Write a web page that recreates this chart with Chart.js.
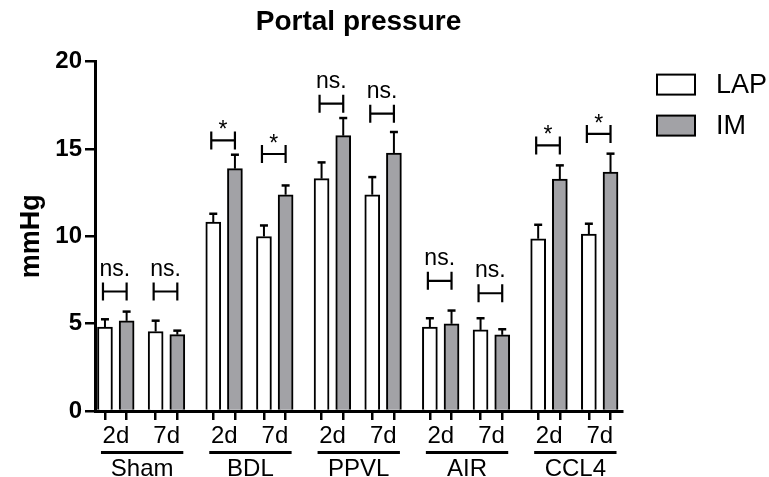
<!DOCTYPE html>
<html><head><meta charset="utf-8">
<script src="https://cdn.jsdelivr.net/npm/chart.js@4.4.0/dist/chart.umd.min.js"></script>
<style>html,body{margin:0;padding:0;background:#fff;}#wrap{width:769px;height:477px;position:relative;}</style>
</head><body><div id="wrap"><canvas id="c"></canvas></div>
<script>
// ---- data ----
const groups = ['Sham', 'BDL', 'PPVL', 'AIR', 'CCL4'];
const times = ['2d', '7d'];
const seriesNames = ['LAP', 'IM'];
const lapMean = [4.80, 4.55, 10.81, 9.99, 13.30, 12.38, 4.80, 4.64, 9.86, 10.13];
const lapErr  = [0.45, 0.62, 0.48, 0.63, 0.93, 1.01, 0.51, 0.67, 0.80, 0.59];
const imMean  = [5.16, 4.37, 13.87, 12.38, 15.76, 14.77, 4.99, 4.36, 13.28, 13.68];
const imErr   = [0.53, 0.23, 0.80, 0.53, 1.01, 1.20, 0.76, 0.32, 0.78, 1.05];
const sigLabel = ['ns.', 'ns.', '*', '*', 'ns.', 'ns.', 'ns.', 'ns.', '*', '*'];
const sigY     = [6.84, 6.84, 15.49, 14.71, 17.59, 17.02, 7.45, 6.74, 15.20, 15.86];
const yTicks = [0, 5, 10, 15, 20];

// ---- layout helpers ----
const FONT = '"Liberation Sans", Arial, Helvetica, sans-serif';
const PAIR_GAP = 0.2, TIME_GAP = 0.468;
const xPos = (g, t, s) => g + t * TIME_GAP + s * PAIR_GAP;
const lapData = [], imData = [], tickVals = [];
groups.forEach((gn, g) => times.forEach((tn, t) => {
  const i = g * times.length + t;
  lapData.push({x: xPos(g, t, 0), y: lapMean[i]});
  imData.push({x: xPos(g, t, 1), y: imMean[i]});
  tickVals.push(xPos(g, t, 0), xPos(g, t, 1));
}));
const means = [lapMean, imMean], errs = [lapErr, imErr];

const extras = {
  id: 'extras',
  afterDatasetsDraw(chart) {
    const ctx = chart.ctx, xs = chart.scales.x, ys = chart.scales.y;
    ctx.save();
    ctx.strokeStyle = '#000'; ctx.fillStyle = '#000'; ctx.lineWidth = 2;
    // error bars
    [0, 1].forEach(d => {
      chart.getDatasetMeta(d).data.forEach((bar, i) => {
        const top = ys.getPixelForValue(means[d][i] + errs[d][i]);
        ctx.lineWidth = 2;
        ctx.beginPath();
        ctx.moveTo(bar.x, bar.y); ctx.lineTo(bar.x, top);
        ctx.stroke();
        ctx.lineWidth = 2.5;
        ctx.beginPath();
        ctx.moveTo(bar.x - 4, top); ctx.lineTo(bar.x + 4, top);
        ctx.stroke();
      });
    });
    // significance brackets
    sigLabel.forEach((lab, i) => {
      const xl = xs.getPixelForValue(lapData[i].x) - 2;
      const xr = xs.getPixelForValue(imData[i].x);
      const y = ys.getPixelForValue(sigY[i]);
      ctx.lineWidth = 2.2;
      ctx.beginPath();
      ctx.moveTo(xl, y); ctx.lineTo(xr, y);
      ctx.moveTo(xl, y - 9); ctx.lineTo(xl, y + 9);
      ctx.moveTo(xr, y - 9); ctx.lineTo(xr, y + 9);
      ctx.stroke();
      ctx.textAlign = 'center';
      ctx.textBaseline = 'alphabetic';
      ctx.font = '23px ' + FONT;
      if (lab === '*') ctx.fillText(lab, (xl + xr) / 2, y - 3);
      else ctx.fillText(lab, (xl + xr) / 2, y - 16);
    });
    ctx.restore();
  },
  afterDraw(chart) {
    const ctx = chart.ctx, xs = chart.scales.x, ca = chart.chartArea;
    ctx.save();
    ctx.fillStyle = '#000'; ctx.strokeStyle = '#000';
    // group underlines + names
    groups.forEach((gn, g) => {
      const x0 = xs.getPixelForValue(xPos(g, 0, 0)) - 4;
      const x1 = xs.getPixelForValue(xPos(g, 1, 1)) + 6;
      ctx.lineWidth = 3;
      ctx.beginPath(); ctx.moveTo(x0, ca.bottom + 41.5); ctx.lineTo(x1, ca.bottom + 41.5); ctx.stroke();
      ctx.font = '24px ' + FONT; ctx.textAlign = 'center'; ctx.textBaseline = 'alphabetic';
      ctx.fillText(gn, (x0 + x1) / 2, ca.bottom + 64.5);
    });
    // legend
    chart.data.datasets.forEach((ds, d) => {
      const bx = ca.right + 35, by = ca.top + 13 + d * 41;
      ctx.fillStyle = ds.backgroundColor; ctx.fillRect(bx, by, 38, 20);
      ctx.lineWidth = 2; ctx.strokeStyle = '#000'; ctx.strokeRect(bx, by, 38, 20);
      ctx.fillStyle = '#000'; ctx.font = '27px ' + FONT; ctx.textAlign = 'left'; ctx.textBaseline = 'middle';
      ctx.fillText(ds.label, bx + 59, by + 11);
    });
    ctx.restore();
  }
};

new Chart(document.getElementById('c'), {
  type: 'bar',
  data: {
    datasets: [
      {label: seriesNames[0], data: lapData, backgroundColor: '#ffffff', borderColor: '#000', borderWidth: 2, barThickness: 15, grouped: false},
      {label: seriesNames[1], data: imData, backgroundColor: '#a2a2a6', borderColor: '#000', borderWidth: 2, barThickness: 15, grouped: false}
    ]
  },
  options: {
    responsive: true, maintainAspectRatio: false, animation: false,
    layout: {padding: {left: 0, right: 147, top: 0, bottom: 0}},
    plugins: {
      legend: {display: false}, tooltip: {enabled: false},
      title: {display: true, fullSize: false, text: 'Portal pressure', color: '#000', font: {family: FONT, size: 28, weight: 'bold'}, padding: {top: 5, bottom: 23}}
    },
    scales: {
      x: {
        type: 'linear', min: -0.092, max: 4.774, offset: false,
        afterBuildTicks: s => { s.ticks = tickVals.map(v => ({value: v})); },
        afterFit: s => { s.height = 66; },
        grid: {drawOnChartArea: false, drawTicks: true, tickLength: 9, lineWidth: 2.5, color: '#000', offset: false},
        border: {display: true, width: 3, color: '#000'},
        ticks: {autoSkip: false, maxRotation: 0, minRotation: 0, labelOffset: 11, padding: 2, color: '#000',
          font: {family: FONT, size: 24},
          callback: (v, i) => { const k = i % 4; return k === 0 ? times[0] : (k === 2 ? times[1] : ''); }}
      },
      y: {
        min: 0, max: 20,
        afterBuildTicks: s => { s.ticks = yTicks.map(v => ({value: v})); },
        afterFit: s => { s.width = 95; },
        grid: {drawOnChartArea: false, drawTicks: true, tickLength: 10, lineWidth: 2.5, color: '#000'},
        border: {display: true, width: 3, color: '#000'},
        ticks: {color: '#000', padding: 3, font: {family: FONT, size: 24, weight: 'bold'}},
        title: {display: true, text: 'mmHg', color: '#000', font: {family: FONT, size: 27, weight: 'bold'}, padding: {top: 15, bottom: 0}}
      }
    }
  },
  plugins: [extras]
});
</script></body></html>
